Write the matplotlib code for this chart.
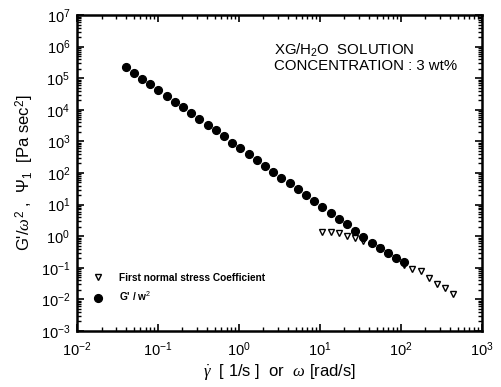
import matplotlib
matplotlib.use("Agg")
import matplotlib.pyplot as plt
from matplotlib.ticker import LogLocator, NullFormatter

plt.rcParams['font.family'] = ['Liberation Sans', 'DejaVu Sans']
plt.rcParams['mathtext.fontset'] = 'custom'
plt.rcParams['mathtext.rm'] = 'Liberation Sans'
plt.rcParams['mathtext.it'] = 'Liberation Serif:italic'

# G'/w^2 (filled circles)
omega = [0.0398, 0.0503, 0.0634, 0.0801, 0.101, 0.128, 0.161, 0.203, 0.257,
         0.324, 0.409, 0.516, 0.652, 0.824, 1.04, 1.31, 1.66, 2.09, 2.64,
         3.33, 4.21, 5.31, 6.70, 8.47, 10.7, 13.5, 17.0, 21.5, 27.1, 34.3,
         43.3, 54.6, 68.9, 87.0, 109.8]
g_over_w2 = [2.31e5, 1.49e5, 9.44e4, 6.41e4, 4.24e4, 2.79e4, 1.80e4, 1.20e4,
             7.93e3, 5.12e3, 3.37e3, 2.24e3, 1.46e3, 910, 605, 391, 258, 170,
             110, 71.0, 47.2, 30.5, 19.7, 13.0, 8.22, 5.42, 3.50, 2.34, 1.46,
             0.964, 0.622, 0.408, 0.290, 0.201, 0.147]

# First normal stress coefficient (open triangles)
shear_rate = [10.7, 13.5, 17.0, 21.5, 27.1, 34.3, 43.3, 54.6, 68.9, 87.0,
              109.8, 138.6, 174.9, 220.8, 278.6, 351.6, 443.6]
psi1 = [1.33, 1.33, 1.24, 1.04, 0.90, 0.72, 0.56, 0.41, 0.30, 0.20,
        0.123, 0.091, 0.076, 0.047, 0.030, 0.022, 0.0145]

fig = plt.figure(figsize=(5.01, 3.87), dpi=100)
ax = fig.add_axes([0.154, 0.145, 0.808, 0.816])

ax.plot(shear_rate, psi1, linestyle='none', marker='v', markersize=5.0,
        markerfacecolor='white', markeredgecolor='black', markeredgewidth=1.0,
        label='First normal stress Coefficient', zorder=2)
ax.plot(omega, g_over_w2, linestyle='none', marker='o', markersize=5.6,
        color='black', label="G' / w$^{2}$", zorder=3)

ax.set_xscale('log')
ax.set_yscale('log')
ax.set_xlim(1e-2, 1e3)
ax.set_ylim(1e-3, 1e7)

ax.xaxis.set_major_locator(LogLocator(base=10, numticks=20))
ax.yaxis.set_major_locator(LogLocator(base=10, numticks=20))
ax.xaxis.set_minor_locator(LogLocator(base=10, subs=range(2, 10), numticks=50))
ax.yaxis.set_minor_locator(LogLocator(base=10, subs=range(2, 10), numticks=50))
ax.xaxis.set_minor_formatter(NullFormatter())
ax.yaxis.set_minor_formatter(NullFormatter())

ax.tick_params(which='both', direction='in', top=True, right=True, labelsize=10.5)
ax.tick_params(which='major', length=5, width=1.2)
ax.tick_params(which='minor', length=3, width=1.0)
ax.tick_params(axis='x', which='major', pad=7)
ax.tick_params(axis='y', which='major', pad=5)
for s in ax.spines.values():
    s.set_linewidth(1.8)

ax.set_xlabel(r"$\dot{\gamma}$  [ 1/s ]  or  $\omega$ [rad/s]", fontsize=12, labelpad=2)
ax.set_ylabel(r"G'/$\omega^{2}$ ,  $\Psi_{1}$  [Pa sec$^{2}$]", fontsize=12, labelpad=3)

ax.text(0.487, 0.915, "XG/H$_{2}$O  SOLUTION\nCONCENTRATION : 3 wt%",
        transform=ax.transAxes, fontsize=10.8, va='top', ha='left', linespacing=1.0)

leg = ax.legend(loc='lower left', bbox_to_anchor=(0.01, 0.065), frameon=False,
                handletextpad=1.0, borderaxespad=0.3, labelspacing=0.75,
                prop={'weight': 'bold', 'size': 7.3})

fig.savefig('out.png', dpi=100)
